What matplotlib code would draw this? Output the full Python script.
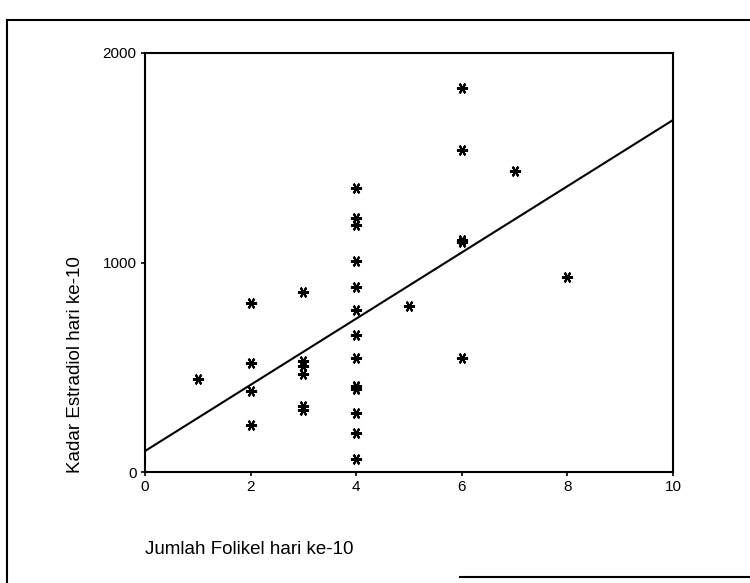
import matplotlib.pyplot as plt
from matplotlib.lines import Line2D

# jumlah folikel vs kadar estradiol (hari ke-10)
folikel = [1, 2, 2, 2, 2, 3, 3, 3, 3, 3, 3,
           4, 4, 4, 4, 4, 4, 4, 4, 4, 4, 4, 4, 4,
           5, 6, 6, 6, 6, 6, 7, 8]
estradiol = [444, 806, 520, 386, 224, 859, 528, 505, 468, 315, 298,
             1355, 1212, 1178, 1006, 882, 773, 654, 544, 410, 398, 281, 186, 62,
             792, 1832, 1536, 1107, 1097, 544, 1436, 930]

# garis regresi
intercept = 100
slope = 158
line_x = [0, 10]

xticks = [0, 2, 4, 6, 8, 10]
yticks = [0, 1000, 2000]

plt.rcParams['font.family'] = ['Liberation Sans', 'DejaVu Sans']

W, H = 750, 583
fig = plt.figure(figsize=(7.5, 5.83), dpi=100)
ax = fig.add_axes([145 / W, 1 - 472 / H, 528 / W, 419 / H])

ax.plot(folikel, estradiol, linestyle='none', marker=(6, 2, 90),
        markersize=8, markeredgewidth=1.5, color='black')
ax.plot(line_x, [intercept + slope * x for x in line_x], color='black', lw=1.5)

ax.set_xlim(0, 10)
ax.set_ylim(0, 2000)
ax.set_xticks(xticks)
ax.set_yticks(yticks)
ax.tick_params(direction='out', length=3, width=1.2, labelsize=11, pad=3)
for s in ax.spines.values():
    s.set_linewidth(1.5)

fig.text(76 / W, 1 - 473 / H, 'Kadar Estradiol hari ke-10', rotation=90,
         ha='center', va='bottom', fontsize=13.5)
fig.text(145 / W, 1 - 550 / H, 'Jumlah Folikel hari ke-10',
         ha='left', va='center', fontsize=13.5)

# border of the scanned page
for xs, ys in [([7, 750], [20, 20]), ([7, 7], [20, 583]), ([460, 750], [577, 577])]:
    fig.add_artist(Line2D([x / W for x in xs], [1 - y / H for y in ys],
                          color='black', lw=1.5))

fig.savefig('out.png', dpi=100)
